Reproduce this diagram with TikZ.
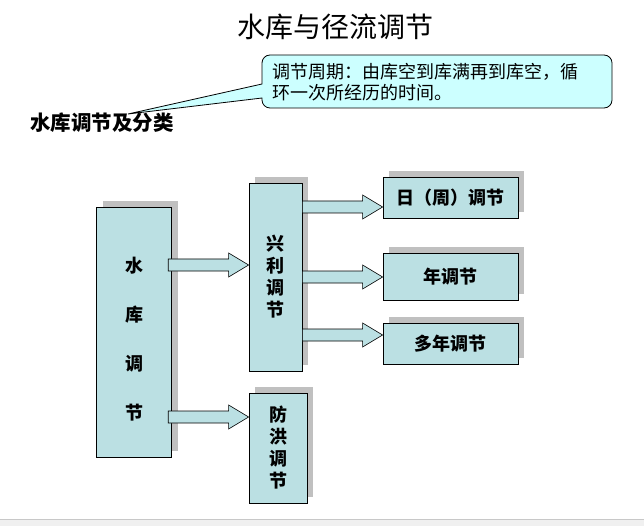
\documentclass[tikz,border=0pt]{standalone}
\usepackage{fontspec}
\newfontfamily\cjk{Noto Sans CJK SC}
\usetikzlibrary{shadows,calc}
\definecolor{boxfill}{RGB}{187,224,227}
\definecolor{callfill}{RGB}{204,255,255}
\definecolor{shadowgray}{RGB}{192,192,192}
\definecolor{bandgray}{RGB}{240,240,240}
\definecolor{bandline}{RGB}{200,200,200}
\tikzset{
  blk/.style={draw=black, line width=0.8pt, fill=boxfill, inner sep=0pt,
    general shadow={fill=shadowgray, shadow xshift=6pt, shadow yshift=6pt}},
  boxtext/.style={font={\cjk\bfseries\fontsize{18}{22}\selectfont}, align=center, inner sep=0pt},
  barrow/.style={draw=black, line width=0.6pt, fill=boxfill},
  callout/.style={draw=black, line width=0.8pt, fill=callfill}
}
\newcommand{\blockarr}[2]{%
  \draw[barrow] let \p1=(#1), \p2=(#2) in
    (\x1,{\y1+6pt}) -- ({\x2-20pt},{\y1+6pt}) -- ({\x2-20pt},{\y1+12pt}) --
    (\x2,\y1) -- ({\x2-20pt},{\y1-12pt}) -- ({\x2-20pt},{\y1-6pt}) --
    (\x1,{\y1-6pt}) -- cycle;}
\begin{document}
\begin{tikzpicture}[x=1pt,y=-1pt]
\useasboundingbox (0,0) rectangle (644,526);
% bottom band
\fill[bandgray] (0,520) rectangle (644,526);
\draw[bandline, line width=1pt] (0,519.5) -- (644,519.5);

% title
\node[font={\cjk\fontsize{28}{30}\selectfont}, inner sep=0pt] (title) at (335,27) {水库与径流调节};
\node[font={\cjk\bfseries\fontsize{20.5}{22}\selectfont}, inner sep=0pt] (sub) at (102,123) {水库调节及分类};

% callout
\coordinate (tip) at (128,114);
\draw[callout] (262,84) -- (tip) -- (262,98) -- (262,99) [rounded corners=8pt]
  -- (262,108) -- (612,108) -- (612,55) -- (262,55) -- (262,70) [sharp corners] -- cycle;
\node[font={\cjk\fontsize{18}{20.5}\selectfont}, align=left, anchor=west, inner sep=0pt] (ctext) at (272,82)
  {调节周期：由库空到库满再到库空，循\\环一次所经历的时间。};

% boxes
\node[blk, minimum width=75pt, minimum height=250pt] (big) at (134.3,332) {};
\node[boxtext, font={\cjk\bfseries\fontsize{18}{49}\selectfont}] (bigtxt) at (134.5,339) {水\\库\\调\\节};
\node[blk, boxtext, minimum width=53pt, minimum height=188pt] (xl) at (275.5,277) {兴\\利\\调\\节};
\node[blk, boxtext, minimum width=58pt, minimum height=110pt] (fh) at (278,448) {防\\洪\\调\\节};
\node[blk, boxtext, minimum width=135pt, minimum height=41pt] (r1) at (450.5,197.5) {日（周）调节};
\node[blk, boxtext, minimum width=135pt, minimum height=47pt] (r2) at (450.5,276.5) {年调节};
\node[blk, boxtext, minimum width=135pt, minimum height=41pt] (r3) at (450.5,343.5) {多年调节};

% arrows
\coordinate (s1) at ($(big.east |- 0,265)+(-4pt,0)$);
\coordinate (t1) at (xl.west |- s1);
\coordinate (s2) at ($(big.east |- 0,417)+(-4pt,0)$);
\coordinate (t2) at (fh.west |- s2);
\coordinate (s3) at (xl.east |- 0,207);
\coordinate (t3) at (r1.west |- s3);
\coordinate (s4) at (xl.east |- 0,277);
\coordinate (t4) at (r2.west |- s4);
\coordinate (s5) at (xl.east |- 0,335);
\coordinate (t5) at (r3.west |- s5);
\blockarr{s1}{t1}
\blockarr{s2}{t2}
\blockarr{s3}{t3}
\blockarr{s4}{t4}
\blockarr{s5}{t5}
\end{tikzpicture}
\end{document}
